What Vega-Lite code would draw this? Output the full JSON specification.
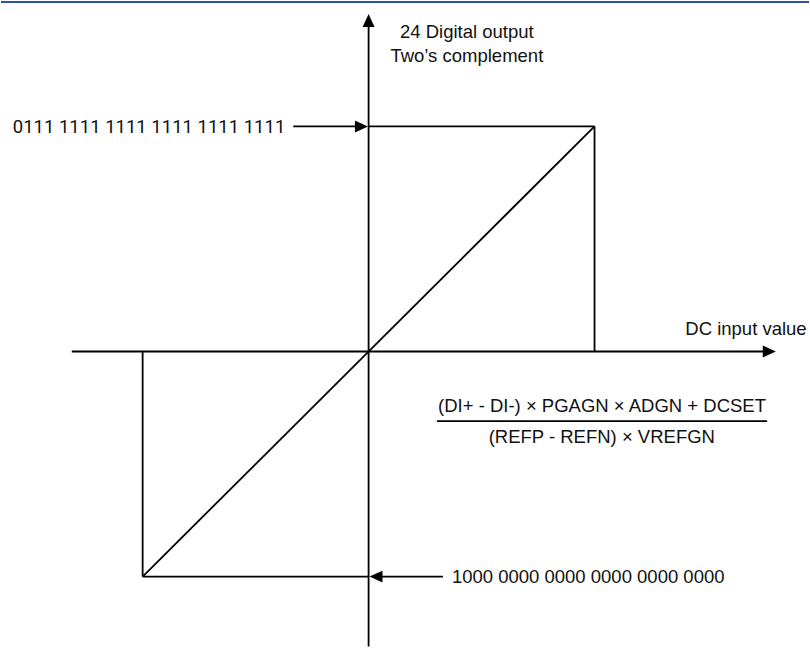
{
  "$schema": "https://vega.github.io/schema/vega-lite/v6.json",
  "width": 810,
  "height": 648,
  "padding": 0,
  "autosize": {"type": "fit", "contains": "padding"},
  "background": "white",
  "config": {"view": {"stroke": null}},
  "datasets": {
    "segments": [
      {"name": "x axis", "x": -1.3135, "y": 0, "x2": 1.78, "y2": 0},
      {"name": "y axis", "x": 0, "y": -1.31, "x2": 0, "y2": 1.48},
      {"name": "max level", "x": 0, "y": 1, "x2": 1, "y2": 1},
      {"name": "max input", "x": 1, "y": 1, "x2": 1, "y2": 0},
      {"name": "min level", "x": -1, "y": -1, "x2": 0, "y2": -1},
      {"name": "min input", "x": -1, "y": -1, "x2": -1, "y2": 0},
      {"name": "transfer", "x": -1, "y": -1, "x2": 1, "y2": 1},
      {"name": "max pointer", "x": -0.3333, "y": 1, "x2": -0.03, "y2": 1},
      {"name": "min pointer", "x": 0.329, "y": -1, "x2": 0.03, "y2": -1},
      {"name": "fraction bar", "x": 0.3024, "y": -0.309, "x2": 1.7638, "y2": -0.309}
    ],
    "frame": [
      {"x": -1.6269, "y": 1.5528, "x2": 1.9492, "y2": 1.5528}
    ],
    "arrows": [
      {"x": 1.8022, "y": 0, "dir": "right"},
      {"x": 0, "y": 1.4998, "dir": "up"},
      {"x": -0.003, "y": 1, "dir": "right"},
      {"x": 0.004, "y": -1, "dir": "left"}
    ],
    "labels": [
      {"text": "0111 1111 1111 1111 1111 1111", "x": -0.3687, "y": 0.973, "anchor": "right"},
      {"text": "1000 0000 0000 0000 0000 0000", "x": 0.3687, "y": -1.03, "anchor": "left"},
      {"text": "24 Digital output", "x": 0.4349, "y": 1.3938, "anchor": "center"},
      {"text": "Two’s complement", "x": 0.4349, "y": 1.2879, "anchor": "center"},
      {"text": "DC input value", "x": 1.4018, "y": 0.0737, "anchor": "left"},
      {"text": "(DI+ - DI-) × PGAGN × ADGN + DCSET", "x": 1.0331, "y": -0.268, "anchor": "center"},
      {"text": "(REFP - REFN) × VREFGN", "x": 1.0322, "y": -0.4075, "anchor": "center"}
    ]
  },
  "encoding": {
    "x": {"field": "x", "type": "quantitative", "scale": {"domain": [-1.6269, 1.9492], "nice": false, "zero": false}, "axis": null},
    "y": {"field": "y", "type": "quantitative", "scale": {"domain": [-1.3038, 1.5572], "nice": false, "zero": false}, "axis": null}
  },
  "layer": [
    {
      "data": {"name": "frame"},
      "mark": {"type": "rule", "color": "#2f52a0", "strokeWidth": 2},
      "encoding": {
        "x2": {"field": "x2"},
        "y2": {"field": "y2"}
      }
    },
    {
      "data": {"name": "segments"},
      "mark": {"type": "rule", "color": "#000000", "strokeWidth": 1.8},
      "encoding": {
        "x2": {"field": "x2"},
        "y2": {"field": "y2"}
      }
    },
    {
      "data": {"name": "arrows"},
      "transform": [{"filter": "datum.dir === 'right'"}],
      "mark": {"type": "point", "filled": true, "opacity": 1, "color": "#000000", "size": 676, "angle": 0, "shape": "M0,0L-1,-0.46L-1,0.46Z"}
    },
    {
      "data": {"name": "arrows"},
      "transform": [{"filter": "datum.dir === 'up'"}],
      "mark": {"type": "point", "filled": true, "opacity": 1, "color": "#000000", "size": 676, "angle": 270, "shape": "M0,0L-1,-0.46L-1,0.46Z"}
    },
    {
      "data": {"name": "arrows"},
      "transform": [{"filter": "datum.dir === 'left'"}],
      "mark": {"type": "point", "filled": true, "opacity": 1, "color": "#000000", "size": 676, "angle": 180, "shape": "M0,0L-1,-0.46L-1,0.46Z"}
    },
    {
      "data": {"name": "labels"},
      "transform": [{"filter": "datum.anchor === 'left'"}],
      "mark": {"type": "text", "align": "left", "baseline": "alphabetic", "font": "Liberation Sans", "fontSize": 18.5, "color": "#111111"},
      "encoding": {"text": {"field": "text"}}
    },
    {
      "data": {"name": "labels"},
      "transform": [{"filter": "datum.anchor === 'center'"}],
      "mark": {"type": "text", "align": "center", "baseline": "alphabetic", "font": "Liberation Sans", "fontSize": 18.5, "color": "#111111"},
      "encoding": {"text": {"field": "text"}}
    },
    {
      "data": {"name": "labels"},
      "transform": [{"filter": "datum.anchor === 'right'"}],
      "mark": {"type": "text", "align": "right", "baseline": "alphabetic", "font": "Roboto", "fontSize": 18.5, "color": "#111111"},
      "encoding": {"text": {"field": "text"}}
    }
  ]
}
